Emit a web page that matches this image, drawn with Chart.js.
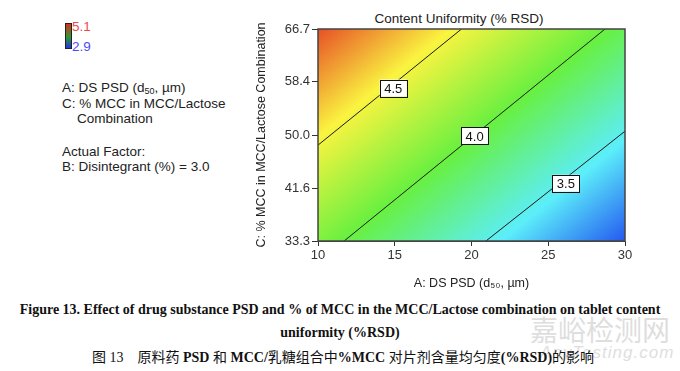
<!DOCTYPE html>
<html>
<head>
<meta charset="utf-8">
<script src="https://cdn.jsdelivr.net/npm/chart.js@4"></script>
<style>
  body { margin: 0; width: 680px; height: 371px; position: relative; overflow: hidden; background: #fff;
         font-family: "Liberation Sans", Arial, sans-serif; }
  #wrap { position: absolute; left: 240px; top: 0; width: 420px; height: 295px; }
  #ctitle { position: absolute; left: 359px; top: 11px; width: 200px; text-align: center; font-size: 13.5px;
            line-height: 16px; color: #222; white-space: nowrap; }
  .side { position: absolute; left: 62px; font-size: 13.5px; color: #222; line-height: 16px; white-space: nowrap; }
  .side sub { font-size: 9px; vertical-align: -2px; line-height: 0; }
  #bar { position: absolute; left: 65px; top: 23px; width: 5px; height: 24px; border: 1px solid #222;
         background: linear-gradient(#d83020, #2e9a30 55%, #1e36e0); }
  .barlab { position: absolute; left: 72px; font-size: 13.5px; line-height: 16px; }
  .cap { position: absolute; left: 0; width: 680px; text-align: center; color: #111; white-space: nowrap;
         font-family: "Liberation Serif", "Times New Roman", serif; font-size: 14px; line-height: 17px; z-index: 2; }
  .cap.en { font-weight: bold; }
  .cap.zh { left: 92px; width: auto; text-align: left; font-family: "Liberation Serif", "Noto Sans CJK SC", serif; }
  .wm { position: absolute; color: #dedede; white-space: nowrap; z-index: 1; }
</style>
</head>
<body>
<div id="bar"></div>
<div class="barlab" style="top:19px;color:#ee4c4c">5.1</div>
<div class="barlab" style="top:39px;color:#4c4cff">2.9</div>

<div class="side" style="top:80px">A: DS PSD (d<sub>50</sub>, µm)</div>
<div class="side" style="top:96px">C: % MCC in MCC/Lactose</div>
<div class="side" style="top:111px;left:77px">Combination</div>
<div class="side" style="top:144px">Actual Factor:</div>
<div class="side" style="top:159px">B: Disintegrant (%) = 3.0</div>

<div id="ctitle">Content Uniformity (% RSD)</div>
<div id="wrap"><canvas id="rsdContour"></canvas></div>

<div class="wm" style="left:530px;top:312px;font-size:28px;line-height:34px;font-family:'Noto Sans CJK SC',sans-serif;">嘉峪检测网</div>
<div class="wm" style="left:540px;top:343px;font-size:17px;line-height:20px;font-style:italic;letter-spacing:1px;">AnyTesting.com</div>

<div class="cap en" style="top:301px">Figure 13. Effect of drug substance PSD and % of MCC in the MCC/Lactose combination on tablet content</div>
<div class="cap en" style="top:324px">uniformity (%RSD)</div>
<div class="cap zh" style="top:349px">图 13　原料药 <b>PSD</b> 和 <b>MCC/</b>乳糖组合中<b>%MCC</b> 对片剂含量均匀度<b>(%RSD)</b>的影响</div>

<script>
// 축 눈금
const xTicks = [10, 15, 20, 25, 30];
const yTicks = [33.3, 41.6, 50.0, 58.4, 66.7];

// 눈금 격자에서 읽은 %RSD 값 (행 = yTicks 순서)
const rsd333 = [4.09, 3.82, 3.55, 3.28, 3.01];
const rsd416 = [4.32, 4.05, 3.78, 3.51, 3.24];
const rsd500 = [4.56, 4.29, 4.02, 3.74, 3.47];
const rsd584 = [4.79, 4.52, 4.25, 3.98, 3.71];
const rsd667 = [5.02, 4.75, 4.48, 4.21, 3.94];
const rsdRows = [rsd333, rsd416, rsd500, rsd584, rsd667];

// 색상 범위
const colorMin = 2.9;
const colorMax = 5.1;

// 등고선 (끝점)
const contourLevels = ["4.5", "4.0", "3.5"];
const c45X = [10, 19.35], c45Y = [48.4, 66.7];
const c40X = [11.7, 28.7], c40Y = [33.3, 66.7];
const c35X = [20.94, 30], c35Y = [33.3, 50.6];
const labelX = [14.9, 20.2, 26.15];
const labelY = [57.4, 49.85, 42.4];

const FONT = "'Liberation Sans', Arial, sans-serif";

// blue -> cyan -> green -> yellow -> red
const palette = [
  [0.00, [22, 52, 238]],
  [0.25, [92, 238, 250]],
  [0.50, [104, 240, 64]],
  [0.75, [250, 244, 64]],
  [1.00, [228, 52, 34]]
];

function colorFor(v) {
  let t = (v - colorMin) / (colorMax - colorMin);
  t = Math.max(0, Math.min(1, t));
  for (let i = 0; i < palette.length - 1; i++) {
    const a = palette[i], b = palette[i + 1];
    if (t <= b[0]) {
      const k = (t - a[0]) / (b[0] - a[0]);
      return a[1].map((c, j) => Math.round(c + (b[1][j] - c) * k));
    }
  }
  return palette[palette.length - 1][1];
}

function findCell(arr, v) {
  for (let i = 0; i < arr.length - 2; i++) {
    if (v <= arr[i + 1]) return i;
  }
  return arr.length - 2;
}

// 격자값 쌍선형 보간 (셀 내부 음영용)
function rsdAt(x, y) {
  const i = findCell(xTicks, x);
  const j = findCell(yTicks, y);
  const tx = (x - xTicks[i]) / (xTicks[i + 1] - xTicks[i]);
  const ty = (y - yTicks[j]) / (yTicks[j + 1] - yTicks[j]);
  const v00 = rsdRows[j][i], v10 = rsdRows[j][i + 1];
  const v01 = rsdRows[j + 1][i], v11 = rsdRows[j + 1][i + 1];
  return (v00 * (1 - tx) + v10 * tx) * (1 - ty) + (v01 * (1 - tx) + v11 * tx) * ty;
}

// 배경 색면 + 라벨 + 테두리
const surfacePlugin = {
  id: "surface",
  beforeDatasetsDraw(chart) {
    const { ctx, chartArea: area, scales } = chart;
    const w = Math.round(area.right - area.left);
    const h = Math.round(area.bottom - area.top);
    const off = document.createElement("canvas");
    off.width = w; off.height = h;
    const octx = off.getContext("2d");
    const img = octx.createImageData(w, h);
    for (let py = 0; py < h; py++) {
      const yv = scales.y.getValueForPixel(area.top + py + 0.5);
      for (let px = 0; px < w; px++) {
        const xv = scales.x.getValueForPixel(area.left + px + 0.5);
        const c = colorFor(rsdAt(xv, yv));
        const k = (py * w + px) * 4;
        img.data[k] = c[0]; img.data[k + 1] = c[1]; img.data[k + 2] = c[2]; img.data[k + 3] = 255;
      }
    }
    octx.putImageData(img, 0, 0);
    ctx.save();
    ctx.drawImage(off, area.left, area.top, area.right - area.left, area.bottom - area.top);
    ctx.restore();
  },
  afterDraw(chart) {
    const { ctx, chartArea: area, scales } = chart;
    ctx.save();
    ctx.font = "13px " + FONT;
    ctx.textAlign = "center";
    ctx.textBaseline = "middle";
    contourLevels.forEach((lab, i) => {
      const cx = scales.x.getPixelForValue(labelX[i]);
      const cy = scales.y.getPixelForValue(labelY[i]);
      const bw = 27, bh = 17;
      ctx.fillStyle = "#fff";
      ctx.fillRect(cx - bw / 2, cy - bh / 2, bw, bh);
      ctx.strokeStyle = "#111";
      ctx.lineWidth = 1;
      ctx.strokeRect(Math.round(cx - bw / 2) + 0.5, Math.round(cy - bh / 2) + 0.5, bw, bh);
      ctx.fillStyle = "#111";
      ctx.fillText(lab, cx, cy + 1);
    });
    ctx.strokeStyle = "#444";
    ctx.lineWidth = 1.5;
    ctx.strokeRect(area.left, area.top, area.right - area.left, area.bottom - area.top);
    ctx.restore();
  }
};

function toPoints(xs, ys) {
  return xs.map((x, i) => ({ x: x, y: ys[i] }));
}

function contourSet(label, xs, ys) {
  return {
    label: label,
    data: toPoints(xs, ys),
    showLine: true,
    borderColor: "#1a1a1a",
    borderWidth: 1,
    pointRadius: 0
  };
}

function axisTicks() {
  return { color: "#333", font: { family: FONT, size: 13 }, padding: 2, autoSkip: false, maxRotation: 0 };
}

window.addEventListener("DOMContentLoaded", () => {
  new Chart(document.getElementById("rsdContour"), {
    type: "scatter",
    data: {
      datasets: [
        contourSet("4.5", c45X, c45Y),
        contourSet("4.0", c40X, c40Y),
        contourSet("3.5", c35X, c35Y)
      ]
    },
    plugins: [surfacePlugin],
    options: {
      responsive: true,
      maintainAspectRatio: false,
      animation: false,
      layout: { padding: { left: 10, right: 35, top: 29, bottom: 0 } },
      plugins: {
        legend: { display: false },
        tooltip: { enabled: false },
        title: { display: false }
      },
      scales: {
        x: {
          type: "linear",
          min: 10, max: 30,
          afterBuildTicks: (s) => { s.ticks = xTicks.map(v => ({ value: v })); },
          afterFit: (s) => { s.height = 54; },
          ticks: { ...axisTicks(), callback: (v) => String(v) },
          grid: { drawOnChartArea: false, drawTicks: true, tickLength: 5, color: "#333" },
          border: { display: true, color: "#444", width: 1 },
          title: { display: true, text: "A: DS PSD (d₅₀, µm)", color: "#222", font: { family: FONT, size: 12.5 }, padding: { top: 8, bottom: 4 } }
        },
        y: {
          type: "linear",
          min: 33.3, max: 66.7,
          afterBuildTicks: (s) => { s.ticks = yTicks.map(v => ({ value: v })); },
          afterFit: (s) => { s.width = 68; },
          ticks: { ...axisTicks(), callback: (v) => Number(v).toFixed(1) },
          grid: { drawOnChartArea: false, drawTicks: true, tickLength: 6, color: "#333" },
          border: { display: true, color: "#444", width: 1 },
          title: { display: true, text: "C: % MCC in MCC/Lactose Combination", color: "#222", font: { family: FONT, size: 12.5 }, padding: { top: 4, bottom: 4 } }
        }
      }
    }
  });
});
</script>
</body>
</html>
